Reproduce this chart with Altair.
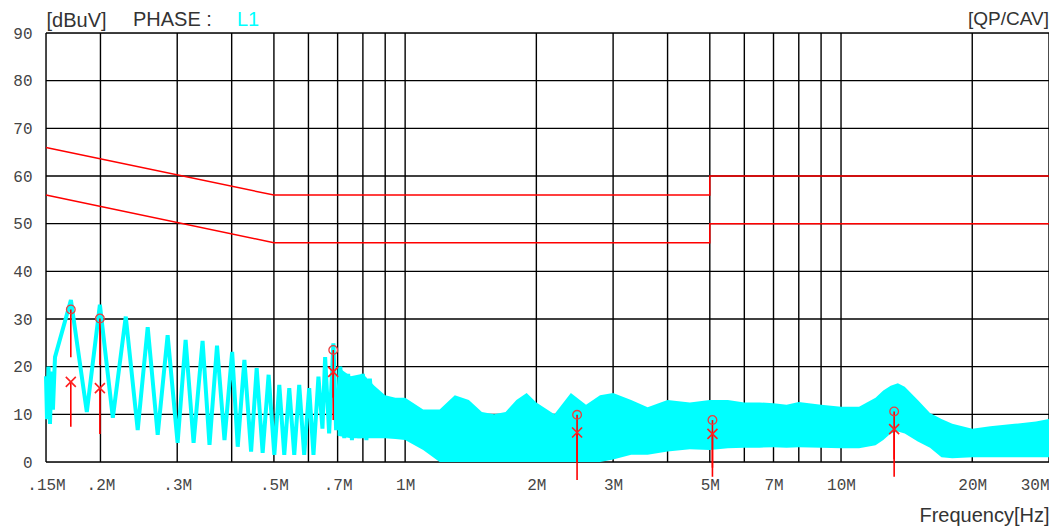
import altair as alt
import pandas as pd

# ---- data ----
grid_freqs = [0.15, 0.2, 0.3, 0.4, 0.5, 0.6, 0.7, 0.8, 0.9, 1, 2, 3, 4, 5, 6, 7, 8, 9, 10, 20, 30]
label_freqs = [0.15, 0.2, 0.3, 0.5, 0.7, 1, 2, 3, 5, 7, 10, 20, 30]
grid_levels = [0, 10, 20, 30, 40, 50, 60, 70, 80, 90]

# low-frequency lobes of the L1 trace (MHz, dBuV)
lobe_freq = [0.150, 0.1508, 0.1520, 0.1532, 0.1544, 0.1556, 0.1573, 0.1711, 0.1861, 0.1994,
             0.2135, 0.2286, 0.2435, 0.2567, 0.2706, 0.2852, 0.3006, 0.3136, 0.3271, 0.3430,
             0.3558, 0.3702, 0.3851, 0.4010, 0.4130, 0.4278, 0.4432, 0.4565, 0.4711, 0.4862,
             0.5011, 0.5144, 0.5281, 0.5422, 0.5567, 0.5715, 0.5867, 0.6024, 0.6162, 0.6326,
             0.6461, 0.6553, 0.6693, 0.6846, 0.6944, 0.710, 0.725, 0.740, 0.755, 0.770,
             0.785, 0.800, 0.815, 0.830, 0.850]
lobe_level = [18, 9, 20, 8, 19, 11, 22, 34, 10.5, 33,
              9.3, 30.5, 6.7, 28.3, 5.7, 26.6, 4, 25.6, 4, 25.4,
              3.6, 24.4, 4.6, 23.1, 3.2, 21.4, 2.2, 19.7, 1.9, 18.3,
              1.5, 16.2, 1.5, 15.5, 1.5, 16.2, 1.5, 15.5, 1.5, 17.9,
              7, 22, 6, 24.9, 6.7, 20, 5, 18.5, 4.6, 18,
              5, 18.5, 4.6, 17.5, 5.5]

# dense part of the trace: upper / lower envelope (MHz, dBuV)
noise_freq = [0.70, 0.75, 0.80, 0.85, 0.90, 0.95, 1.0, 1.1, 1.2, 1.3, 1.4, 1.5, 1.6, 1.7, 1.8, 1.9,
              2.0, 2.2, 2.4, 2.6, 2.8, 3.0, 3.3, 3.6, 4.0, 4.5, 5.0, 5.5, 6.0, 6.5, 7.0, 7.5,
              8.0, 9.0, 10, 11, 12, 12.5, 13, 13.5, 14, 15, 16, 17, 18, 20, 22, 25, 28, 30]
noise_hi = [20, 18, 18.5, 16, 14, 13.5, 13.5, 11, 11, 14, 13, 10.5, 10, 10.5, 13, 14.5,
            12.5, 10, 14.5, 12, 14, 14.5, 13, 11.5, 13, 12.5, 13, 13, 12.5, 12.5, 12.3, 12,
            12.6, 12, 11.6, 11.6, 13.5, 15, 16, 16.5, 15.8, 13, 10.3, 9, 8, 7, 7.5, 8, 8.5, 9]
noise_lo = [5.5, 5, 5, 5, 5, 4.8, 4.6, 2.5, 0, 0, 0, 0, 0, 0, 0, 0,
            0, 0, 0, 0, 0, 0.5, 1.5, 1.5, 2.2, 2.7, 2.5, 2.9, 3, 3, 3.1, 3,
            3.1, 3, 2.9, 2.9, 3.5, 4.6, 6, 6.4, 6, 4.3, 3, 1, 0.8, 1, 1, 1, 1, 1]

# limit lines
lim_freq = [0.15, 0.5, 5, 5, 30]
qp_limit = [66, 56, 56, 60, 60]
av_limit = [56, 46, 46, 50, 50]

# final measurement markers
mk_freq = [0.171, 0.1994, 0.684, 2.48, 5.07, 13.24]
mk_qp = [32, 30.1, 23.5, 9.9, 8.8, 10.6]
mk_av = [16.8, 15.5, 18.9, 6.2, 5.9, 6.9]
mk_qp_end = [22, 20.3, 13.5, 0, -1.2, 0.6]
mk_av_end = [7.4, 5.9, 8.8, -3.8, -3.1, -3.1]

# ---- tables ----
df_gv = pd.DataFrame({"f": grid_freqs})
df_gh = pd.DataFrame({"v": grid_levels})
df_lobe = pd.DataFrame({"f": lobe_freq, "v": lobe_level, "i": range(len(lobe_freq))})
df_noise = pd.DataFrame({"f": noise_freq, "hi": noise_hi, "lo": noise_lo})
df_lim = pd.concat([
    pd.DataFrame({"f": lim_freq, "v": qp_limit, "k": "QP", "i": range(5)}),
    pd.DataFrame({"f": lim_freq, "v": av_limit, "k": "AV", "i": range(5)}),
])
df_mk = pd.DataFrame({"f": mk_freq, "qp": mk_qp, "av": mk_av, "qp2": mk_qp_end, "av2": mk_av_end})

W, H = 1003, 429
TXT = "#333333"
LBL = "#454545"

xscale = alt.Scale(type="log", domain=[0.15, 30], nice=False)
yscale = alt.Scale(domain=[0, 90], nice=False, zero=False)

x_axis = alt.Axis(
    values=label_freqs,
    labelExpr="datum.value < 1 ? replace(toString(datum.value), '0.', '.') + 'M' : toString(datum.value) + 'M'",
    labelAlign=alt.ExprRef(expr="datum.value >= 30 ? 'right' : 'center'"),
    grid=False, domain=False, ticks=False, labelFont="Liberation Mono", labelFontSize=16,
    labelColor=LBL, labelPadding=14, labelOverlap=False, labelFlush=False, labelBound=False,
    title="Frequency[Hz]", titleFont="Liberation Sans", titleFontSize=20, titleFontWeight="normal",
    titleColor=TXT, titleX=W, titleY=59, titleAlign="right", titleAnchor="end",
    titleBaseline="alphabetic",
)
y_axis = alt.Axis(
    values=grid_levels, grid=False, domain=False, ticks=False, labelFont="Liberation Mono",
    labelFontSize=16, labelColor=LBL, labelPadding=14,
    title="[dBuV]", titleAngle=0, titleX=0, titleY=-7, titleAlign="left", titleBaseline="alphabetic",
    titleFont="Liberation Sans", titleFontSize=20, titleFontWeight="normal", titleColor=TXT,
)


def X(field):
    return alt.X(f"{field}:Q", scale=xscale, axis=x_axis)


def Y(field):
    return alt.Y(f"{field}:Q", scale=yscale, axis=y_axis)


grid_v = alt.Chart(df_gv).mark_rule(color="#000000", strokeWidth=1.4).encode(x=X("f"))
grid_h = alt.Chart(df_gh).mark_rule(color="#000000", strokeWidth=1.4).encode(y=Y("v"))

trace_area = alt.Chart(df_noise).mark_area(color="#00ffff", opacity=1).encode(
    x=X("f"), y=Y("hi"), y2="lo")
trace_line = alt.Chart(df_lobe).mark_line(color="#00ffff", strokeWidth=4).encode(
    x=X("f"), y=Y("v"), order="i:Q")

limits = alt.Chart(df_lim).mark_line(color="#ff0000", strokeWidth=1.5).encode(
    x=X("f"), y=Y("v"), detail="k:N", order="i:Q")

qp_seg = alt.Chart(df_mk).mark_rule(color="#ff0000", strokeWidth=1.6).encode(
    x=X("f"), y=Y("qp"), y2="qp2")
av_seg = alt.Chart(df_mk).mark_rule(color="#ff0000", strokeWidth=1.6).encode(
    x=X("f"), y=Y("av"), y2="av2")
qp_pts = alt.Chart(df_mk).mark_point(shape="circle", filled=False, size=75, color="#e84040",
                                      strokeWidth=1.3, opacity=1).encode(x=X("f"), y=Y("qp"))
av_pts = alt.Chart(df_mk).mark_point(shape="M-1,-1L1,1M-1,1L1,-1", filled=False, size=100,
                                      color="#ff2020", strokeWidth=1.6, opacity=1).encode(
    x=X("f"), y=Y("av"))

df_t = pd.DataFrame({"t": ["PHASE :", "L1", "[QP/CAV]"]})
txt_phase = alt.Chart(df_t.iloc[[0]]).mark_text(
    font="Liberation Sans", fontSize=20, color=TXT, align="left", baseline="alphabetic"
).encode(x=alt.value(87), y=alt.value(-7), text="t:N")
txt_l1 = alt.Chart(df_t.iloc[[1]]).mark_text(
    font="Liberation Sans", fontSize=20, color="#00ffff", align="left", baseline="alphabetic"
).encode(x=alt.value(191), y=alt.value(-7), text="t:N")
txt_mode = alt.Chart(df_t.iloc[[2]]).mark_text(
    font="Liberation Sans", fontSize=19, color=TXT, align="right", baseline="alphabetic"
).encode(x=alt.value(W), y=alt.value(-8), text="t:N")

chart = alt.layer(
    grid_v, grid_h, trace_area, trace_line, limits, qp_seg, av_seg, qp_pts, av_pts,
    txt_phase, txt_l1, txt_mode,
).properties(
    width=W, height=H,
    autosize=alt.AutoSizeParams(type="none"),
    padding={"left": 38, "top": 25, "right": 0, "bottom": 65},
).configure_view(stroke=None).configure(background="white")

chart.save("out.html", embed_options={"renderer": "svg", "actions": False})
